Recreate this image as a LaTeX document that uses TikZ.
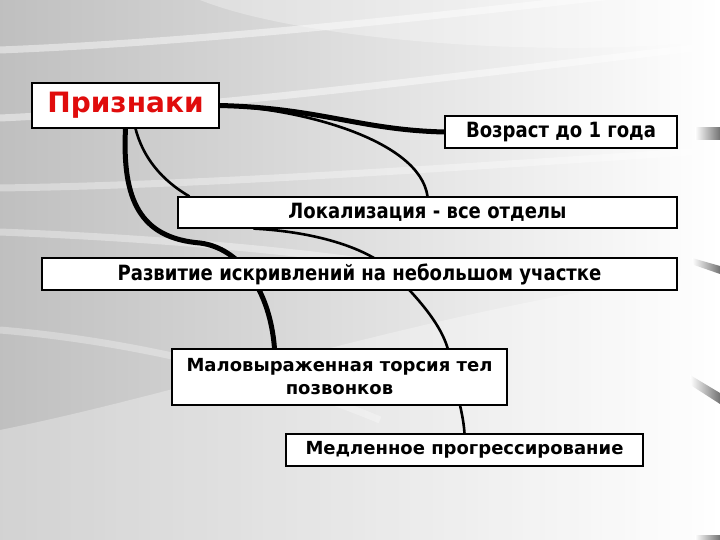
\documentclass[tikz,border=0pt]{standalone}
\usepackage{fontspec}
\setmainfont{DejaVu Sans}
\newfontfamily\narrowfont[FakeStretch=0.86]{DejaVu Sans}
\usetikzlibrary{positioning,calc}

\definecolor{signred}{RGB}{224,12,12}
\pgfdeclarelayer{back}
\pgfdeclarelayer{links}
\pgfsetlayers{back,links,main}

\tikzset{
  box/.style={draw=black, fill=white, line width=1.2pt, inner sep=0pt, align=center},
  narrowbox/.style={box, font=\narrowfont\bfseries\fontsize{21}{24}\selectfont},
  widebox/.style={box, font=\bfseries\fontsize{18}{23}\selectfont},
  link/.style={line width=2.6pt},
  thicklink/.style={line width=5pt},
  band/.style={white, opacity=.45, line width=7pt},
  edgemark/.style={left color=white, right color=black!55}
}

\begin{document}
\begin{tikzpicture}[x=1pt,y=-1pt]
\useasboundingbox (0,0) rectangle (720,540);

% background
\begin{pgfonlayer}{back}
  \shade[left color=black!25, right color=white] (0,0) rectangle (720,540);
  \fill[white, opacity=.3] (0,430) .. controls (200,390) and (420,310) .. (720,270) -- (720,540) -- (0,540) -- cycle;
  \fill[white, opacity=.3] (200,0) .. controls (300,40) and (550,60) .. (720,40) -- (720,0) -- cycle;
  \draw[band] (0,50) .. controls (200,42) and (420,18) .. (620,-5);
  \draw[band] (0,118) .. controls (220,108) and (460,75) .. (720,45);
  \draw[band, opacity=.35] (0,188) .. controls (200,185) and (420,170) .. (720,150);
  \draw[band, opacity=.35] (0,232) .. controls (150,238) and (300,250) .. (420,270);
  \draw[band, opacity=.3] (0,330) .. controls (120,340) and (260,370) .. (380,420);
  \shade[edgemark] (695,128) rectangle (720,140);
  \shade[edgemark] (692,258) -- (720,266) -- (720,274) -- (694,265) -- cycle;
  \shade[edgemark] (690,375) -- (720,393) -- (720,404) -- (692,386) -- cycle;
  \shade[edgemark] (695,535) rectangle (720,540);
\end{pgfonlayer}

\node[box, minimum width=187pt, minimum height=45pt, text=signred,
      font=\bfseries\fontsize{28}{30}\selectfont] (pr) at (125.5,105.5) {Признаки};
\node[narrowbox, minimum width=232pt, minimum height=32pt] (voz) at (561,132) {Возраст до 1 года};
\node[narrowbox, minimum width=499pt, minimum height=31pt] (lok) at (427.5,212.5) {Локализация - все отделы};
\node[narrowbox, minimum width=635pt, minimum height=32pt] (razv) at (359.5,274) {Развитие искривлений на небольшом участке};
\node[widebox, minimum width=335pt, minimum height=56pt] (mal) at (339.5,377) {Маловыраженная торсия тел\\позвонков};
\node[widebox, minimum width=357pt, minimum height=32pt] (med) at (464.5,450) {Медленное прогрессирование};

\begin{pgfonlayer}{links}
  \draw[thicklink] (pr.east) .. controls (320,108) and (360,130) .. (voz.west);
  \draw[link] (pr.east) .. controls (300,108) and (420,140) .. (lok.north);
  \draw[link] ([xshift=10pt]pr.south) .. controls (145,165) and (170,185) .. ([xshift=12pt]lok.north west);
  \draw[thicklink] (pr.south) .. controls (122,200) and (140,238) .. (200,243)
    .. controls (240,248) and (270,290) .. ([xshift=-65pt]mal.north);
  \draw[link] ([xshift=-174pt]lok.south) .. controls (320,232) and (370,250) .. (390,270)
    .. controls (420,300) and (447,330) .. (450,360)
    .. controls (455,390) and (463,410) .. (med.north);
\end{pgfonlayer}
\end{tikzpicture}
\end{document}
